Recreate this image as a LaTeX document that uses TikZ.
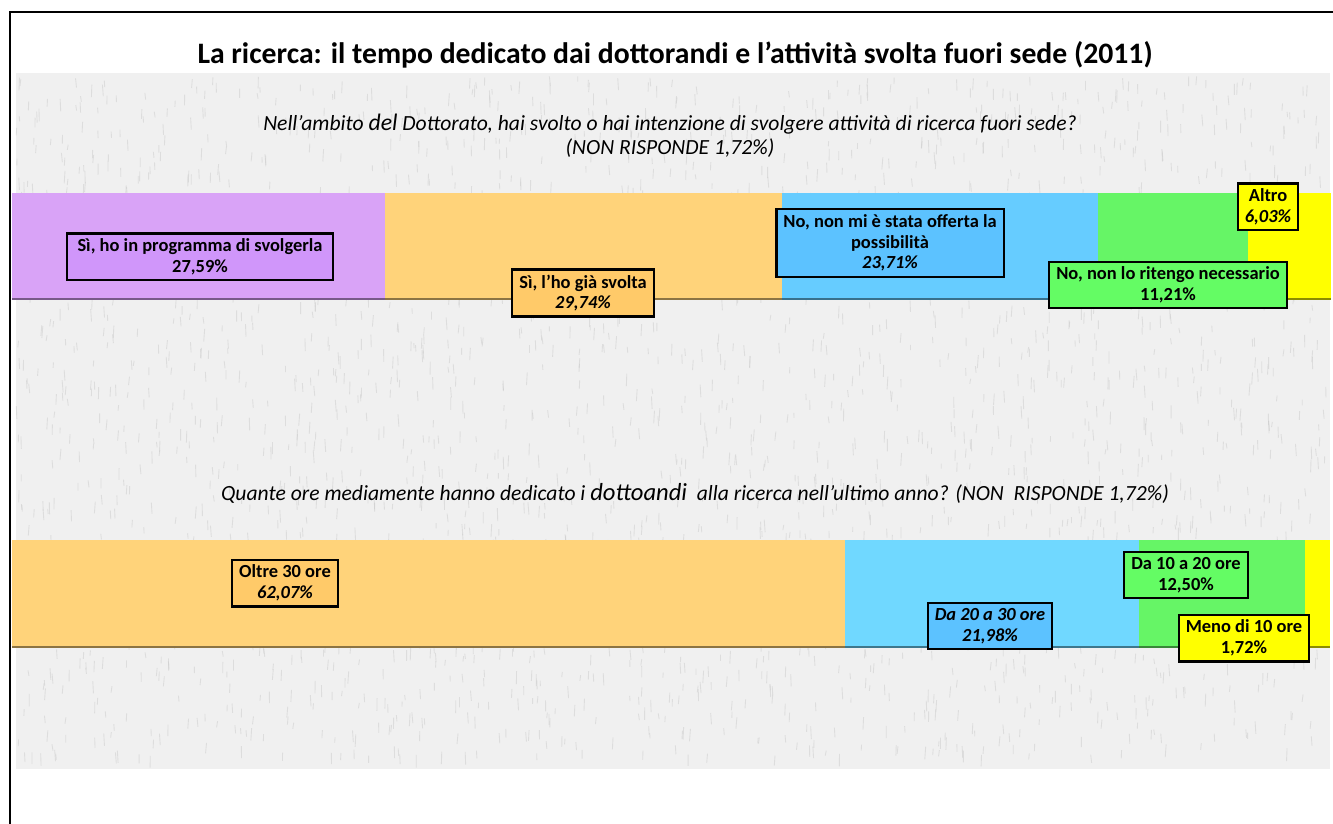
\documentclass[tikz,border=0pt]{standalone}
\usepackage{fontspec}
\setmainfont{Carlito}
\usetikzlibrary{positioning}
\definecolor{bgpaper}{RGB}{240,240,240}
\definecolor{bgspeck}{RGB}{200,200,200}
\definecolor{qpurple}{RGB}{217,163,247}
\definecolor{qorange}{RGB}{255,211,122}
\definecolor{qblue}{RGB}{102,204,255}
\definecolor{qbluetwo}{RGB}{112,216,255}
\definecolor{qgreen}{RGB}{102,245,102}
\definecolor{qyellow}{RGB}{255,255,0}
\definecolor{lpurple}{RGB}{208,150,250}
\definecolor{lorange}{RGB}{255,202,105}
\definecolor{lblue}{RGB}{92,194,255}
\definecolor{lgreen}{RGB}{100,252,100}

\begin{document}
\begin{tikzpicture}[x=0.02cm,y=-0.02cm,
  lbl/.style={draw=black, line width=1.3pt, align=center, inner xsep=4pt, inner ysep=3pt,
    font=\fontsize{10.5}{11.8}\selectfont\bfseries},
  question/.style={align=center, font=\fontsize{12.3}{13.5}\selectfont\itshape}]
\useasboundingbox (0,0) rectangle (1333,824);
% Paper background and frame
\fill[bgpaper] (16,73) rectangle (1330,769);
\pgfmathsetseed{2011}
\foreach \i in {1,...,2600} {
  \pgfmathsetmacro{\sx}{16+1310*rnd}
  \pgfmathsetmacro{\sy}{76+680*rnd}
  \draw[bgspeck, line width=0.5pt, opacity=0.45] (\sx,\sy) -- ++(2*rnd-1,5+8*rnd);
}
\draw[line width=1.7pt] (10,824) -- (10,12) -- (1333,12);
% Title
\node[font=\fontsize{16.9}{19}\selectfont\bfseries] (title) at (675,55)
  {La ricerca: il tempo dedicato dai dottorandi e l’attività svolta fuori sede (2011)};
% First question
\node[question] (qfuori) at (670,136)
  {Nell’ambito {\fontsize{13.5}{13.5}\selectfont del} Dottorato, hai svolto o hai intenzione di svolgere attività di ricerca fuori sede?\\
   (NON RISPONDE 1,72\%)};
% Bar of the first question
\foreach \xa/\xb/\c in {12/385/qpurple, 385/782/qorange, 782/1098/qblue,
  1098/1248/qgreen, 1248/1331/qyellow} {
  \fill[\c] (\xa,193) rectangle (\xb,300);
  \draw[\c!55!black, line width=1.5pt] (\xa,299) -- (\xb,299);
}
\node[lbl, fill=lpurple, minimum width=266*0.02cm] (programma) at (200,257)
  {Sì, ho in programma di svolgerla\\ 27,59\%};
\node[lbl, fill=lorange] (svolta) at (583,293)
  {Sì, l'ho già svolta\\ \textit{29,74\%}};
\node[lbl, fill=lblue] (offerta) at (890,243)
  {No, non mi è stata offerta la\\ possibilità\\ \textit{23,71\%}};
\node[lbl, fill=lgreen] (necessario) at (1168,285)
  {No, non lo ritengo necessario\\ 11,21\%};
\node[lbl, fill=qyellow] (altro) at (1268,207)
  {Altro\\ \textit{6,03\%}};
% Second question
\node[question] (qore) at (695,493)
  {Quante ore mediamente hanno dedicato i {\fontsize{14}{13.5}\selectfont dottoandi}\ \ alla ricerca nell'ultimo anno? (NON\ \ RISPONDE 1,72\%)};
% Bar of the second question
\foreach \xa/\xb/\c in {12/845/qorange, 845/1139/qbluetwo, 1139/1305/qgreen,
  1305/1330/qyellow} {
  \fill[\c] (\xa,540) rectangle (\xb,648);
  \draw[\c!55!black, line width=1.5pt] (\xa,647) -- (\xb,647);
}
\node[lbl, fill=lorange] (oltre) at (285,583)
  {Oltre 30 ore\\ \textit{62,07\%}};
\node[lbl, fill=lblue, font=\fontsize{10.5}{11.8}\selectfont\bfseries\itshape] (ventitrenta) at (990,626)
  {Da 20 a 30 ore\\ 21,98\%};
\node[lbl, fill=lgreen] (dieciventi) at (1186,575)
  {Da 10 a 20 ore\\ 12,50\%};
\node[lbl, fill=qyellow] (menodieci) at (1244,638)
  {Meno di 10 ore\\ 1,72\%};
\end{tikzpicture}
\end{document}
